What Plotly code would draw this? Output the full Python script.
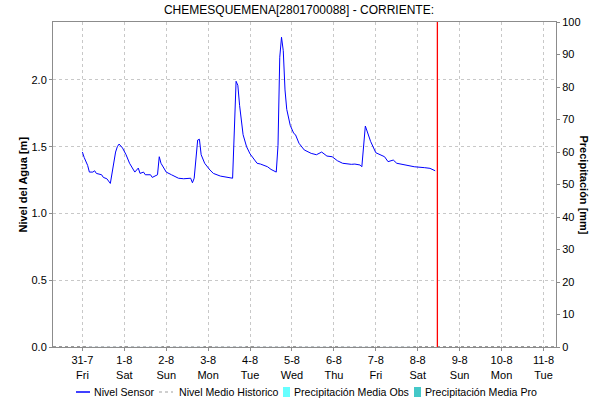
import pandas as pd
import plotly.graph_objects as go

# datos (horas desde el inicio y nivel en m)
inicio = "2015-07-31 00:00"
horas = [0, 1, 3, 4, 6, 7, 8, 11, 12, 14, 16, 17, 19, 20, 21, 23, 25, 27, 30, 32,
         33, 35, 36, 39, 40, 43, 44, 45, 48, 51, 55, 58, 62, 63, 64, 66, 67, 68, 70, 73,
         75, 79, 83, 86, 87, 88, 89, 90, 92, 94, 96, 100, 102, 106, 108, 111, 112, 113, 114, 115,
         116, 117, 119, 121, 122, 124, 127, 131, 134, 137, 140, 143, 146, 149, 154, 156, 159, 160, 162, 163,
         165, 168, 173, 175, 178, 180, 186, 190, 196, 199, 202]
nivel = [1.46, 1.42, 1.36, 1.31, 1.31, 1.32, 1.30, 1.29, 1.27, 1.26, 1.225, 1.30, 1.46, 1.50, 1.52, 1.49, 1.44, 1.376, 1.31, 1.34,
         1.30, 1.31, 1.29, 1.29, 1.27, 1.29, 1.425, 1.376, 1.31, 1.29, 1.264, 1.26, 1.264, 1.23, 1.264, 1.55, 1.556, 1.44, 1.376, 1.326,
         1.30, 1.28, 1.27, 1.264, 1.625, 1.99, 1.96, 1.81, 1.59, 1.50, 1.446, 1.376, 1.37, 1.35, 1.33, 1.31, 1.51, 2.17, 2.32, 2.22,
         1.925, 1.78, 1.66, 1.60, 1.59, 1.526, 1.476, 1.45, 1.44, 1.46, 1.43, 1.425, 1.395, 1.376, 1.368, 1.37, 1.363, 1.35, 1.655, 1.62,
         1.54, 1.455, 1.425, 1.388, 1.40, 1.376, 1.363, 1.35, 1.343, 1.338, 1.32]

dias = ["2015-07-30 07:10", "2015-08-11 07:10"]
nivel_historico = [0, 0]
dias_precip = ["2015-07-31 12:00", "2015-08-01 12:00", "2015-08-02 12:00", "2015-08-03 12:00",
               "2015-08-04 12:00", "2015-08-05 12:00", "2015-08-06 12:00", "2015-08-07 12:00"]
precip_obs = [0, 0, 0, 0, 0, 0, 0, 0]
precip_pro = [0, 0, 0, 0, 0, 0, 0, 0]
ahora = "2015-08-08 11:15"

nombres = ["Nivel Sensor", "Nivel Medio Historico", "Precipitación Media Obs", "Precipitación Media Pro"]
colores = ["#0000ff", "#c0c0c0", "#66ffff", "#44c8c8"]

tiempo = pd.Timestamp(inicio) + pd.to_timedelta(horas, unit="h")

fuente = "Liberation Sans, Arial, sans-serif"
gris = "#8c8c8c"

# area del grafico en pixeles, para colocar la leyenda a mano
L, R, T, B = 53, 556, 22, 347
def px(x):
    return (x - L) / (R - L)
def py(y):
    return (B - y) / (B - T)

fig = go.Figure()
fig.add_trace(go.Scatter(x=tiempo, y=nivel, mode="lines", name=nombres[0],
                         line=dict(color=colores[0], width=1)))
fig.add_trace(go.Scatter(x=dias, y=nivel_historico, mode="lines", name=nombres[1],
                         line=dict(color="#333333", width=1, dash="dot")))
fig.add_trace(go.Bar(x=dias_precip, y=precip_obs, name=nombres[2],
                     marker_color=colores[2], yaxis="y2"))
fig.add_trace(go.Bar(x=dias_precip, y=precip_pro, name=nombres[3],
                     marker_color=colores[3], yaxis="y2"))

# linea roja de "ahora"
fig.add_shape(type="line", x0=ahora, x1=ahora, y0=0, y1=1, yref="paper",
              line=dict(color="#ff0000", width=1.3))

# leyenda dibujada a mano (mas compacta que la de plotly)
ly = py(392)
fig.add_shape(type="line", xref="paper", yref="paper", x0=px(76), x1=px(90), y0=ly, y1=ly,
              line=dict(color=colores[0], width=1.5))
fig.add_shape(type="line", xref="paper", yref="paper", x0=px(159), x1=px(173), y0=ly, y1=ly,
              line=dict(color=colores[1], width=1.5, dash="dot"))
fig.add_shape(type="rect", xref="paper", yref="paper", x0=px(283), x1=px(290), y0=py(397), y1=py(387),
              line=dict(width=0), fillcolor=colores[2])
fig.add_shape(type="rect", xref="paper", yref="paper", x0=px(414), x1=px(421), y0=py(397), y1=py(387),
              line=dict(width=0), fillcolor=colores[3])
anot = []
for nombre, xt in zip(nombres, [92, 177, 292, 423]):
    anot.append(dict(text=nombre, xref="paper", yref="paper", x=px(xt), y=ly, xanchor="left",
                     yanchor="middle", showarrow=False, font=dict(size=10.6)))

anot.append(dict(text="<b>Nivel del Agua [m]</b>", xref="paper", yref="paper", x=px(22), y=0.5,
                 xanchor="center", yanchor="middle", textangle=-90, showarrow=False,
                 font=dict(size=11)))
anot.append(dict(text="<b>Precipitación [mm]</b>", xref="paper", yref="paper", x=px(584), y=0.5,
                 xanchor="center", yanchor="middle", textangle=90, showarrow=False,
                 font=dict(size=11)))

fig.update_layout(
    width=598, height=401,
    margin=dict(l=L, r=598 - R, t=T, b=401 - B, autoexpand=False),
    paper_bgcolor="white", plot_bgcolor="white",
    font=dict(family=fuente, size=11, color="#000000"),
    title=dict(text="CHEMESQUEMENA[2801700088] - CORRIENTE:", x=0.5, xanchor="center",
               y=1 - 10 / 401, yanchor="middle", font=dict(size=12)),
    showlegend=False,
    barmode="group",
    xaxis=dict(type="date", range=dias, tickformat="%-d-%-m<br>%a", dtick=86400000,
               tick0="2015-07-31", showgrid=True, gridcolor="#c8c8c8", griddash="dot",
               showline=True, linecolor=gris, mirror=True, ticks="outside", ticklen=3,
               tickcolor=gris, zeroline=False),
    yaxis=dict(range=[0, 2.434], dtick=0.5, tickformat=".1f", showgrid=True,
               gridcolor="#c8c8c8", griddash="dot", showline=True, linecolor=gris,
               ticks="outside", ticklen=3, tickcolor=gris, zeroline=False),
    yaxis2=dict(range=[0, 100], dtick=10, overlaying="y", side="right", showgrid=False,
                showline=True, linecolor=gris, ticks="outside", ticklen=3, tickcolor=gris,
                zeroline=False),
    annotations=anot,
)

# quitar el margen del body para que la figura empiece en (0, 0)
fig.write_html("out.html", config={"displayModeBar": False},
               post_script="document.body.style.margin='0';")
